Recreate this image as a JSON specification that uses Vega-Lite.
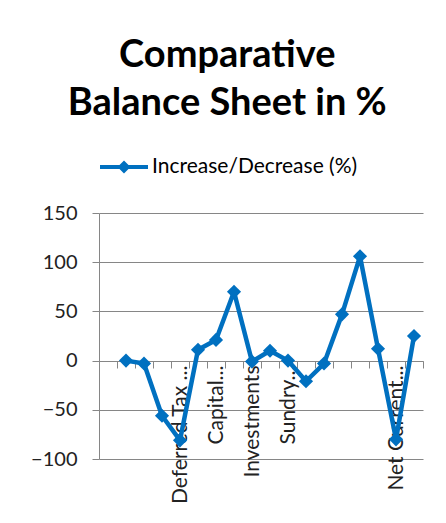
{
  "$schema": "https://vega.github.io/schema/vega-lite/v6.json",
  "width": 324,
  "height": 246,
  "autosize": {"type": "none"},
  "padding": {"left": 99, "top": 213, "right": 23, "bottom": 64},
  "background": "white",
  "title": {
    "text": ["Comparative", "Balance Sheet in %"],
    "font": "Lato",
    "fontSize": 38,
    "fontWeight": "bold",
    "lineHeight": 48,
    "color": "#000000",
    "anchor": "middle",
    "frame": "bounds",
    "offset": 20
  },
  "data": {
    "values": [
      {"item": "Particulars", "pct": null},
      {"item": "Share Capital", "pct": 0},
      {"item": "Reserves & Surplus", "pct": -3},
      {"item": "Long Term Borrowings", "pct": -56},
      {"item": "Deferred Tax ...", "pct": -81},
      {"item": "Current Liabilities", "pct": 11},
      {"item": "Capital...", "pct": 21},
      {"item": "Fixed Assets", "pct": 70},
      {"item": "Investments", "pct": -1},
      {"item": "Long Term Loans", "pct": 10},
      {"item": "Sundry...", "pct": 0},
      {"item": "Inventories", "pct": -21},
      {"item": "Trade Receivables", "pct": -3},
      {"item": "Cash and Bank", "pct": 47},
      {"item": "Short Term Loans", "pct": 106},
      {"item": "Other Current Assets", "pct": 12},
      {"item": "Net Current...", "pct": -80},
      {"item": "Total", "pct": 25}
    ]
  },
  "mark": {
    "type": "line",
    "strokeWidth": 4.5,
    "strokeJoin": "round",
    "invalid": "break-paths-show-domains",
    "point": {"shape": "diamond", "size": 200, "filled": true, "opacity": 1}
  },
  "encoding": {
    "x": {
      "field": "item",
      "type": "nominal",
      "sort": null,
      "scale": {"type": "band", "paddingInner": 0, "paddingOuter": 0},
      "axis": {
        "title": null,
        "offset": -98,
        "tickBand": "extent",
        "tickSize": 7,
        "tickColor": "#868686",
        "domainColor": "#868686",
        "grid": false,
        "labelAngle": -90,
        "labelAlign": "right",
        "labelBaseline": "middle",
        "labelPadding": -3,
        "labelOverlap": false,
        "labelFont": "Lato",
        "labelFontSize": 21,
        "labelColor": "#222222",
        "labelExpr": "indexof(['Deferred Tax ...','Capital...','Investments','Sundry...','Net Current...'], datum.value) >= 0 ? datum.value : ''"
      }
    },
    "y": {
      "field": "pct",
      "type": "quantitative",
      "scale": {"domain": [-100, 150], "nice": false, "zero": false},
      "axis": {
        "title": null,
        "values": [-100, -50, 0, 50, 100, 150],
        "grid": true,
        "gridColor": "#868686",
        "tickColor": "#868686",
        "domainColor": "#868686",
        "tickSize": 7,
        "labelPadding": 15,
        "labelFont": "Lato",
        "labelFontSize": 20,
        "labelColor": "#222222"
      }
    },
    "color": {
      "datum": "Increase/Decrease (%)",
      "scale": {"range": ["#0070C0"]},
      "legend": {
        "title": null,
        "orient": "none",
        "legendX": 1,
        "legendY": -70,
        "symbolType": "M-1,-0.08H1V0.08H-1Z M-0.27,0L0,-0.27L0.27,0L0,0.27Z",
        "symbolSize": 2304,
        "symbolFillColor": "#0070C0",
        "symbolStrokeWidth": 0,
        "labelFont": "Lato",
        "labelFontSize": 21,
        "labelLimit": 400,
        "labelColor": "#000000",
        "labelOffset": 4
      }
    }
  },
  "config": {"view": {"stroke": null}}
}
